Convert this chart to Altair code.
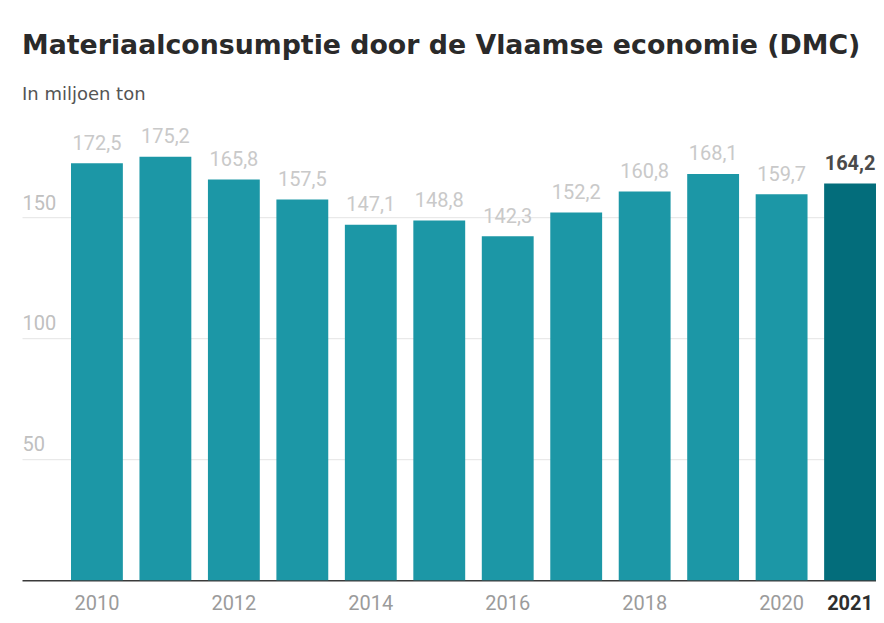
import altair as alt
import pandas as pd

years = ["2010", "2011", "2012", "2013", "2014", "2015", "2016", "2017", "2018", "2019", "2020", "2021"]
values = [172.5, 175.2, 165.8, 157.5, 147.1, 148.8, 142.3, 152.2, 160.8, 168.1, 159.7, 164.2]
value_labels = ["172,5", "175,2", "165,8", "157,5", "147,1", "148,8", "142,3", "152,2", "160,8", "168,1", "159,7", "164,2"]
groups = ["ander"] * 11 + ["laatste"]
x_tick_labels = ["2010", "2012", "2014", "2016", "2018", "2020", "2021"]
y_tick_values = [50, 100, 150]

df = pd.DataFrame({"jaar": years, "waarde": values, "label": value_labels, "groep": groups})

x_enc = alt.X(
    "jaar:N",
    sort=years,
    title=None,
    scale=alt.Scale(paddingInner=0.2426, paddingOuter=0.3578, align=1, round=False),
    axis=alt.Axis(
        values=x_tick_labels,
        labelAngle=0,
        labelFont="Roboto",
        labelFontSize=20,
        labelColor=alt.expr("datum.value == '2021' ? '#2e2e2e' : '#9b9b9b'"),
        labelFontWeight=alt.expr("datum.value == '2021' ? 'bold' : 'normal'"),
        labelPadding=13.5,
        labelBaseline="top",
        ticks=False,
        tickSize=0,
        domainColor="#3a3a3a",
        domainWidth=1.5,
        grid=False,
    ),
)

y_enc = alt.Y(
    "waarde:Q",
    title=None,
    scale=alt.Scale(domain=[0, 180], nice=False),
    axis=alt.Axis(
        values=y_tick_values,
        labelAlign="left",
        labelBaseline="alphabetic",
        labelOffset=-8.6,
        labelPadding=0,
        labelFont="Roboto",
        labelFontSize=20,
        labelColor="#c0c0c0",
        ticks=False,
        tickSize=0,
        domain=False,
        grid=True,
        gridColor="#e4e4e4",
        gridWidth=1,
    ),
)

base = alt.Chart(df)

bars = base.mark_bar().encode(
    x=x_enc,
    y=y_enc,
    color=alt.Color(
        "groep:N",
        scale=alt.Scale(domain=["ander", "laatste"], range=["#1c97a6", "#036d7b"]),
        legend=None,
    ),
)

text_normal = base.transform_filter("datum.groep == 'ander'").mark_text(
    font="Roboto", fontSize=20, color="#c9c9c9", baseline="alphabetic", dy=-13.6
).encode(x=alt.X("jaar:N", sort=years), y="waarde:Q", text="label:N")

text_last = base.transform_filter("datum.groep == 'laatste'").mark_text(
    font="Roboto", fontSize=20, fontWeight="bold", color="#4a4a4a", baseline="alphabetic", dy=-13.6
).encode(x=alt.X("jaar:N", sort=years), y="waarde:Q", text="label:N")

chart = (
    alt.layer(bars, text_normal, text_last)
    .properties(
        width=854,
        height=435,
        background="white",
        padding={"left": 14, "top": 137.2, "right": 0, "bottom": 34.4},
        autosize=alt.AutoSizeParams(type="none"),
        title=alt.TitleParams(
            text="Materiaalconsumptie door de Vlaamse economie (DMC)",
            subtitle="In miljoen ton",
            anchor="start",
            frame="group",
            font="DejaVu Sans",
            fontSize=26.8,
            fontWeight="bold",
            color="#2a2a2a",
            subtitleFont="DejaVu Sans",
            subtitleFontSize=18,
            subtitleColor="#555555",
            subtitlePadding=26,
            offset=23,
        ),
    )
    .configure_view(stroke=None)
)

chart.save("out.html", embed_options={"renderer": "svg", "actions": False})
